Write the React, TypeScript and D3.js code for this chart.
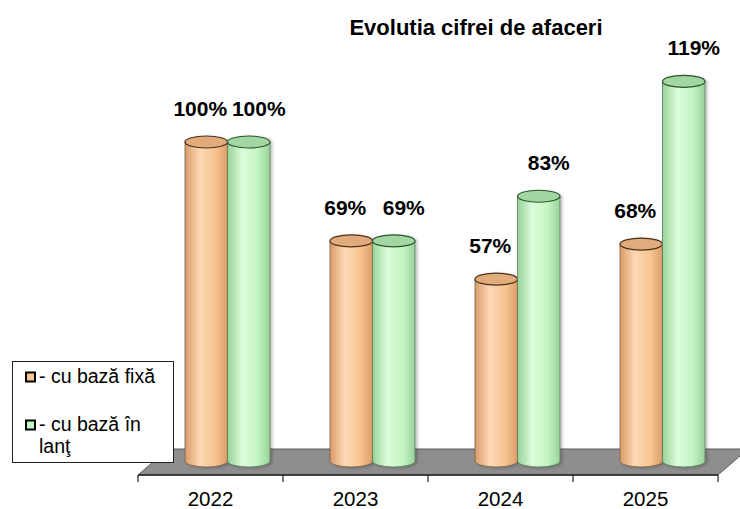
import React, { useEffect, useRef } from "react";
import * as d3 from "d3";

const years = ["2022", "2023", "2024", "2025"];
const fixedBase = [100, 69, 57, 68];
const chainBase = [100, 69, 83, 119];
const seriesKeys = ["fixa", "lant"];
const seriesLabels = ["- cu bază fixă", "- cu bază în lanţ"];

const FONT = "'Liberation Sans', Arial, Helvetica, sans-serif";

const App: React.FC = () => {
  const svgRef = useRef<any>();

  useEffect(() => {
    const svg = d3.select(svgRef.current);
    svg.selectAll("*").remove();

    const width = 740;
    const height = 509;
    svg.attr("width", width).attr("height", height).style("font-family", FONT);

    // floor geometry (3D look)
    const floorFront = 475;
    const floorBack = 449;
    const depthDx = 30;

    const x = d3.scaleBand<string>().domain(years).range([138, 718]);
    const inner = d3.scaleBand<string>().domain(seriesKeys).range([0, 85]);
    const y = d3.scaleLinear().domain([0, 100]).range([461, 142]);
    const rx = inner.bandwidth() / 2;
    const ry = 6;
    const shift = x.bandwidth() / 2 - 42.5 + 17;

    const defs = svg.append("defs");
    const grads: any = {
      fixa: ["#d99b68", "#fcd9b6", "#f7c48f", "#dc9d69"],
      lant: ["#98d298", "#dcfddc", "#c2f4c2", "#99d199"],
    };
    Object.keys(grads).forEach((k) => {
      const g = defs
        .append("linearGradient")
        .attr("id", "grad-" + k)
        .attr("x1", "0%")
        .attr("x2", "100%");
      [0, 0.35, 0.72, 1].forEach((o, i) =>
        g.append("stop").attr("offset", o).attr("stop-color", grads[k][i]),
      );
    });
    const f = defs
      .append("filter")
      .attr("id", "shadow")
      .attr("x", "-20%")
      .attr("y", "-5%")
      .attr("width", "150%")
      .attr("height", "115%");
    f.append("feDropShadow")
      .attr("dx", 2)
      .attr("dy", 1)
      .attr("stdDeviation", 1.5)
      .attr("flood-color", "#000")
      .attr("flood-opacity", 0.25);

    const topFill: any = { fixa: "#e2ab7c", lant: "#a2d6a2" };
    const topStroke: any = { fixa: "#4d3119", lant: "#2b562b" };
    const bodyStroke: any = { fixa: "#7a6048", lant: "#5a7a5a" };
    const labelDx: any = { fixa: -6, lant: 10 };

    // title
    svg
      .append("text")
      .attr("x", 476)
      .attr("y", 35)
      .attr("text-anchor", "middle")
      .attr("font-size", 22)
      .attr("font-weight", "bold")
      .text("Evolutia cifrei de afaceri");

    // floor
    const x0 = x.range()[0];
    const x1 = x.range()[1];
    svg
      .append("polygon")
      .attr(
        "points",
        [
          [x0, floorFront],
          [x1, floorFront],
          [x1 + depthDx, floorBack],
          [x0 + depthDx, floorBack],
        ]
          .map((p) => p.join(","))
          .join(" "),
      )
      .attr("fill", "#8e8e8e")
      .attr("stroke", "#5a5a5a")
      .attr("stroke-width", 1);

    // axis line + ticks
    svg
      .append("line")
      .attr("x1", x0)
      .attr("x2", x1)
      .attr("y1", floorFront)
      .attr("y2", floorFront)
      .attr("stroke", "#222")
      .attr("stroke-width", 1.5);
    const tickXs = years.map((d) => x(d) as number).concat([x1]);
    svg
      .append("g")
      .selectAll("line")
      .data(tickXs)
      .join("line")
      .attr("x1", (d) => d)
      .attr("x2", (d) => d)
      .attr("y1", floorFront)
      .attr("y2", floorFront + 7)
      .attr("stroke", "#222")
      .attr("stroke-width", 1.2);
    svg
      .append("g")
      .selectAll("text")
      .data(years)
      .join("text")
      .attr("x", (d) => (x(d) as number) + x.bandwidth() / 2)
      .attr("y", 506)
      .attr("text-anchor", "middle")
      .attr("font-size", 20.5)
      .text((d) => d);

    // cylinders
    const rows = years.flatMap((yr, i) => [
      { year: yr, key: "fixa", value: fixedBase[i] },
      { year: yr, key: "lant", value: chainBase[i] },
    ]);
    const cx = (d: any) => (x(d.year) as number) + shift + (inner(d.key) as number) + rx;

    const cyl = svg
      .append("g")
      .selectAll("g")
      .data(rows)
      .join("g")
      .attr("filter", "url(#shadow)");

    cyl
      .append("path")
      .attr("d", (d) => {
        const l = cx(d) - rx;
        const r = cx(d) + rx;
        const top = y(d.value);
        const base = y(0);
        return `M${l},${top}L${l},${base}A${rx},${ry} 0 0 0 ${r},${base}L${r},${top}Z`;
      })
      .attr("fill", (d) => `url(#grad-${d.key})`)
      .attr("stroke", (d) => bodyStroke[d.key])
      .attr("stroke-width", 0.8);

    cyl
      .append("ellipse")
      .attr("cx", cx)
      .attr("cy", (d) => y(d.value))
      .attr("rx", rx)
      .attr("ry", ry)
      .attr("fill", (d) => topFill[d.key])
      .attr("stroke", (d) => topStroke[d.key])
      .attr("stroke-width", 1.2);

    // value labels
    svg
      .append("g")
      .selectAll("text")
      .data(rows)
      .join("text")
      .attr("x", (d) => cx(d) + labelDx[d.key])
      .attr("y", (d) => y(d.value) - 26)
      .attr("text-anchor", "middle")
      .attr("font-size", 21)
      .attr("font-weight", "bold")
      .text((d) => d.value + "%");

    // legend
    const lg = svg.append("g");
    lg.append("rect")
      .attr("x", 12.5)
      .attr("y", 361.5)
      .attr("width", 161)
      .attr("height", 101)
      .attr("fill", "#fff")
      .attr("stroke", "#222")
      .attr("stroke-width", 1);

    const markerFill: any = { fixa: "#f9c795", lant: "#c6f5c6" };
    const legendY = [383, 431];
    seriesKeys.forEach((k, i) => {
      lg.append("rect")
        .attr("x", 26)
        .attr("y", legendY[i] - 10.5)
        .attr("width", 9)
        .attr("height", 9)
        .attr("fill", markerFill[k])
        .attr("stroke", "#000")
        .attr("stroke-width", 2);
      const t = lg
        .append("text")
        .attr("x", 39)
        .attr("y", legendY[i])
        .attr("font-size", 19.5);
      const parts = i === 1 ? ["- cu bază în", "lanţ"] : [seriesLabels[i]];
      parts.forEach((p, j) =>
        t
          .append("tspan")
          .attr("x", 39)
          .attr("dy", j === 0 ? 0 : 21.5)
          .text(p),
      );
    });
  }, []);

  return (
    <svg
      ref={svgRef}
      style={{ position: "absolute", left: 0, top: 0, background: "#fff" }}
    ></svg>
  );
};

export default App;
